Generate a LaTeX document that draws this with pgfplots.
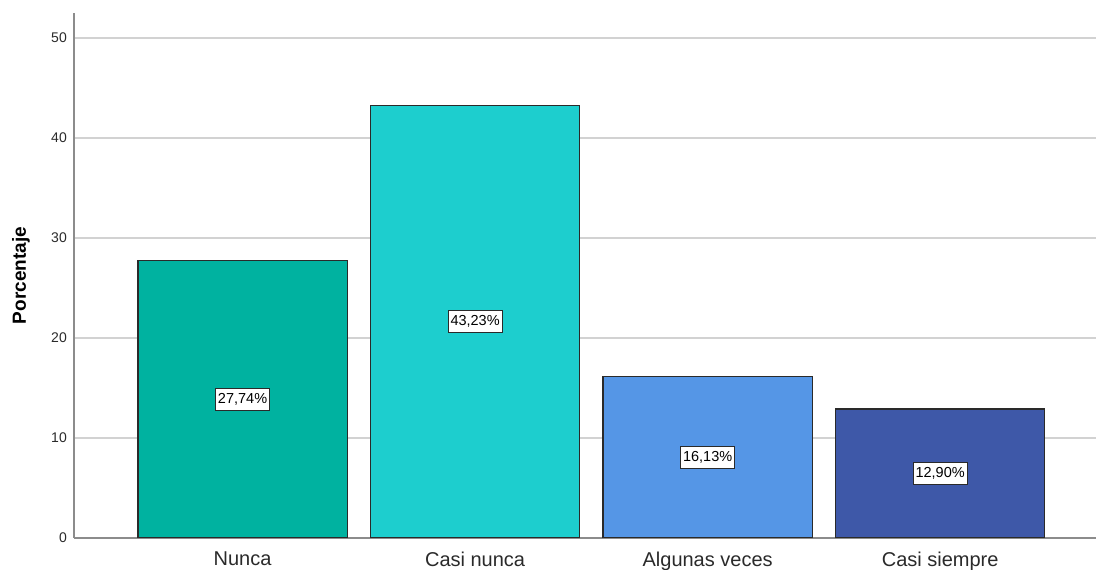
\documentclass[border=0pt]{standalone}
\usepackage{fontspec}
\setmainfont{Liberation Sans}
\usepackage{pgfplots}
\usepackage{pgfplotstable}
\pgfplotsset{compat=1.18}

\definecolor{cNunca}{HTML}{00B2A0}
\definecolor{cCasiNunca}{HTML}{1DCECE}
\definecolor{cAlgunas}{HTML}{5596E6}
\definecolor{cSiempre}{HTML}{3E58A8}
\definecolor{gridgray}{HTML}{D2D2D2}
\definecolor{axisgray}{HTML}{8C8C8C}
\definecolor{inkgray}{HTML}{2A2A2A}

% frequency table: position and percentage
\pgfplotstableread{
x pct
0 27.74
1 43.23
2 16.13
3 12.90
}\porcentajes

\begin{document}
\begin{tikzpicture}
\begin{axis}[
  scale only axis,
  width=1022pt, height=525pt,
  xmin=-0.725, xmax=3.67,
  ymin=0, ymax=52.5,
  axis x line*=bottom, axis y line*=left,
  x axis line style={-, draw=axisgray, line width=1.6pt},
  y axis line style={-, draw=axisgray, line width=1.6pt},
  xtick={0,1,2,3},
  xticklabels={Nunca, Casi nunca, Algunas veces, Casi siempre},
  ytick={0,10,20,30,40,50},
  major tick length=0pt,
  ymajorgrids,
  grid style={draw=gridgray, line width=1.5pt},
  /pgf/number format/assume math mode=true,
  yticklabel style={font=\fontsize{14}{16}\selectfont, text=inkgray, inner sep=0pt, xshift=-7pt},
  xticklabel style={font=\fontsize{20}{24}\selectfont, text=inkgray, inner sep=0pt, yshift=-14pt},
  ylabel={Porcentaje},
  every axis y label/.style={at={(axis description cs:0,0.5)}, xshift=-53pt, rotate=90,
    anchor=center, font=\bfseries\fontsize{19}{22}\selectfont, text=black},
  bar width=0.9,
]
\addplot[ybar, bar shift=0pt, fill=cNunca, draw=inkgray, line width=1.3pt]
  table[x=x, y=pct, restrict expr to domain={\coordindex}{0:0}] {\porcentajes};
\addplot[ybar, bar shift=0pt, fill=cCasiNunca, draw=inkgray, line width=1.3pt]
  table[x=x, y=pct, restrict expr to domain={\coordindex}{1:1}] {\porcentajes};
\addplot[ybar, bar shift=0pt, fill=cAlgunas, draw=inkgray, line width=1.3pt]
  table[x=x, y=pct, restrict expr to domain={\coordindex}{2:2}] {\porcentajes};
\addplot[ybar, bar shift=0pt, fill=cSiempre, draw=inkgray, line width=1.3pt]
  table[x=x, y=pct, restrict expr to domain={\coordindex}{3:3}] {\porcentajes};

% percentage boxes at half the bar height
\addplot[draw=none, mark=none,
  point meta=explicit,
  nodes near coords={\pgfmathprintnumber[fixed, fixed zerofill, precision=2, use comma]{\pgfplotspointmeta}\%},
  every node near coord/.style={anchor=center, draw=inkgray, fill=white, line width=1pt,
    inner xsep=2.5pt, inner ysep=5pt, text=black, font=\fontsize{14.5}{16}\selectfont},
] table[x=x, y expr=\thisrow{pct}/2, meta=pct] {\porcentajes};
\end{axis}
\pgfresetboundingbox
\path[use as bounding box] (-74pt,-32pt) rectangle (1022pt,538pt);
\end{tikzpicture}
\end{document}
